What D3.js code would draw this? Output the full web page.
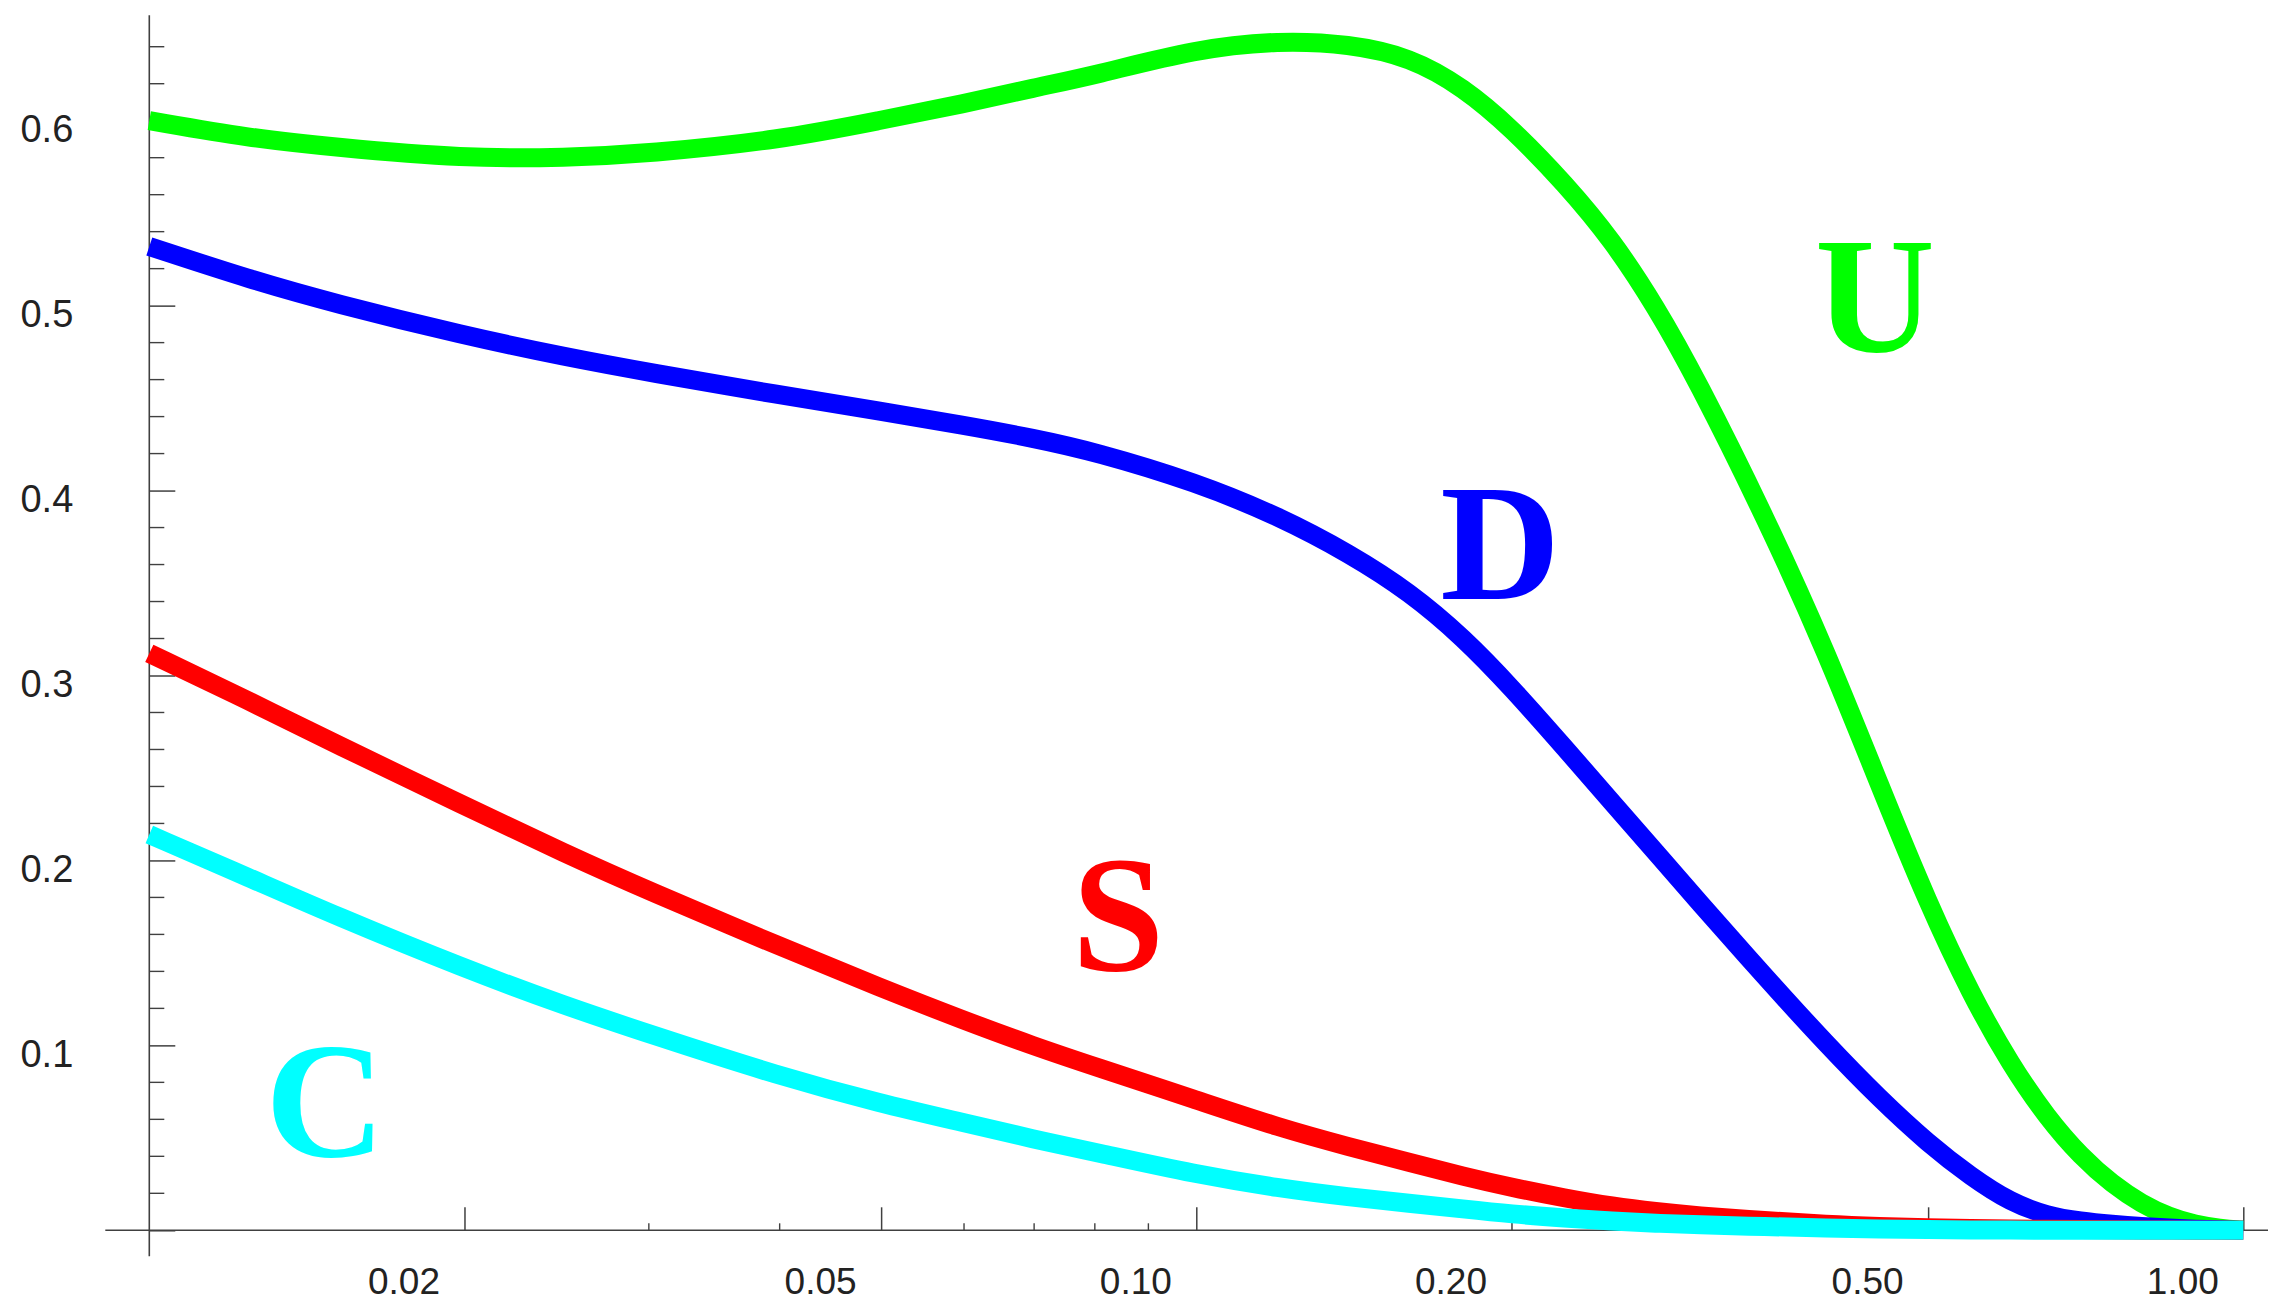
<!DOCTYPE html>
<html>
<head>
<meta charset="utf-8">
<script src="https://cdn.jsdelivr.net/npm/d3@7"></script>
<style>
  html, body { margin: 0; padding: 0; background: #ffffff; }
  svg { display: block; }
</style>
</head>
<body>
<svg id="chart" width="2271" height="1302"></svg>
<script>
// Sample points along the horizontal (log) axis
const xs = [0.01, 0.0125, 0.015, 0.02, 0.025, 0.03, 0.04, 0.05, 0.06, 0.07, 0.08, 0.1,
            0.12, 0.14, 0.16, 0.18, 0.2, 0.225, 0.25, 0.275, 0.3, 0.35, 0.4, 0.45, 0.5,
            0.55, 0.6, 0.65, 0.7, 0.75, 0.8, 0.85, 0.9, 0.95, 1.0];

// Curve values at each sample point
const uValues = [0.600, 0.5905, 0.5857, 0.5795, 0.5800, 0.5823, 0.5895, 0.6003, 0.6091, 0.6178, 0.6246, 0.6388,
                 0.6434, 0.6415, 0.6345, 0.6180, 0.596, 0.566, 0.535, 0.499, 0.461, 0.385, 0.3125, 0.2398, 0.1766,
                 0.127, 0.0892, 0.0607, 0.0398, 0.0248, 0.0142, 0.0072, 0.003, 0.001, 0.0];
const dValues = [0.532, 0.514, 0.5013, 0.4838, 0.4722, 0.4639, 0.4517, 0.4428, 0.4353, 0.4283, 0.421, 0.4045,
                 0.386, 0.366, 0.345, 0.3204, 0.2935, 0.2607, 0.2309, 0.204, 0.1794, 0.1365, 0.1005, 0.0708, 0.047,
                 0.0288, 0.015, 0.0078, 0.0048, 0.0032, 0.002, 0.0012, 0.0006, 0.0002, 0.0];
const sValues = [0.312, 0.2858, 0.2635, 0.2295, 0.2035, 0.1835, 0.1535, 0.131, 0.1135, 0.0995, 0.0885, 0.0705,
                 0.0555, 0.0451, 0.0366, 0.0291, 0.0232, 0.0174, 0.0129, 0.0100, 0.0079, 0.0052, 0.0031, 0.002, 0.0014,
                 0.001, 0.0007, 0.0005, 0.0004, 0.0003, 0.0002, 0.0001, 0.0001, 0.0, 0.0];
const cValues = [0.214, 0.1903, 0.1705, 0.1415, 0.1212, 0.1062, 0.0833, 0.0685, 0.0582, 0.0492, 0.0423, 0.0302,
                 0.0228, 0.0180, 0.0146, 0.0115, 0.0088, 0.0066, 0.0049, 0.0038, 0.003, 0.002, 0.0012, 0.0007, 0.0004,
                 0.0002, 0.0001, 0.0, 0.0, 0.0, 0.0, 0.0, 0.0, 0.0, 0.0];

const seriesNames = ["U", "D", "S", "C"];
const seriesColors = ["#00ff00", "#0000ff", "#ff0000", "#00ffff"];

// Tick values and labels
const xMajorTicks = [0.02, 0.05, 0.1, 0.2, 0.5, 1.0];
const xTickLabels = ["0.02", "0.05", "0.10", "0.20", "0.50", "1.00"];
const xMinorTicks = [0.03, 0.04, 0.06, 0.07, 0.08, 0.09, 0.3, 0.4, 0.6, 0.7, 0.8, 0.9];
const yMajorTicks = [0, 0.1, 0.2, 0.3, 0.4, 0.5, 0.6];
const yTickLabels = ["", "0.1", "0.2", "0.3", "0.4", "0.5", "0.6"];
const yMinorTicks = [0.02, 0.04, 0.06, 0.08, 0.12, 0.14, 0.16, 0.18, 0.22, 0.24, 0.26, 0.28,
                     0.32, 0.34, 0.36, 0.38, 0.42, 0.44, 0.46, 0.48, 0.52, 0.54, 0.56, 0.58, 0.62, 0.64];

// Anchor points (data coordinates) for the curve names
const labelX = [0.4449, 0.1951, 0.0842, 0.01472];
const labelY = [0.4755, 0.3414, 0.1408, 0.0402];

const svg = d3.select("#chart");

const x = d3.scaleLog().domain([0.01, 1]).range([149.3, 2243.3]);
const y = d3.scaleLinear().domain([0, 0.6]).range([1230.3, 120.7]);

const axisColor = "#404040";
const tickFont = "'Liberation Sans', Arial, Helvetica, sans-serif";

// Axis lines
svg.append("line")
  .attr("x1", x(0.01) - 44).attr("x2", 2268)
  .attr("y1", y(0)).attr("y2", y(0))
  .attr("stroke", axisColor).attr("stroke-width", 1.6);
svg.append("line")
  .attr("x1", x(0.01)).attr("x2", x(0.01))
  .attr("y1", y(0.657)).attr("y2", y(0) + 26)
  .attr("stroke", axisColor).attr("stroke-width", 1.6);

// Horizontal axis: major ticks point up into the plot, labels sit below
const xAxis = d3.axisBottom(x)
  .tickValues(xMajorTicks)
  .tickSizeInner(-23)
  .tickSizeOuter(0)
  .tickFormat((d, i) => xTickLabels[i]);
const gx = svg.append("g")
  .attr("transform", `translate(0,${y(0)})`)
  .call(xAxis);
gx.select(".domain").remove();
gx.selectAll(".tick line").attr("stroke", axisColor).attr("stroke-width", 1.5);
gx.selectAll(".tick text")
  .attr("x", -61)
  .attr("y", 64)
  .attr("dy", null)
  .attr("fill", "#222")
  .style("font-family", tickFont)
  .style("font-size", "37px");

svg.append("g").selectAll("line")
  .data(xMinorTicks)
  .join("line")
  .attr("x1", d => x(d)).attr("x2", d => x(d))
  .attr("y1", y(0)).attr("y2", y(0) - 7)
  .attr("stroke", axisColor).attr("stroke-width", 1.4);

// Vertical axis: ticks point right into the plot, labels on the left
const yAxis = d3.axisLeft(y)
  .tickValues(yMajorTicks)
  .tickSizeInner(-26)
  .tickSizeOuter(0)
  .tickFormat((d, i) => yTickLabels[i]);
const gy = svg.append("g")
  .attr("transform", `translate(${x(0.01)},0)`)
  .call(yAxis);
gy.select(".domain").remove();
gy.selectAll(".tick line").attr("stroke", axisColor).attr("stroke-width", 1.5);
gy.selectAll(".tick text")
  .attr("x", -76)
  .attr("dy", "0.55em")
  .attr("text-anchor", "end")
  .attr("fill", "#222")
  .style("font-family", tickFont)
  .style("font-size", "38px");

svg.append("g").selectAll("line")
  .data(yMinorTicks)
  .join("line")
  .attr("x1", x(0.01)).attr("x2", x(0.01) + 15)
  .attr("y1", d => y(d)).attr("y2", d => y(d))
  .attr("stroke", axisColor).attr("stroke-width", 1.4);

// Curves, cyan drawn last so it sits on top where they converge
const allValues = [uValues, dValues, sValues, cValues];
const line = d3.line()
  .x(d => x(d[0]))
  .y(d => y(d[1]))
  .curve(d3.curveBasis);

const curves = svg.append("g");
allValues.forEach((vals, i) => {
  curves.append("path")
    .datum(xs.map((xv, j) => [xv, vals[j]]))
    .attr("d", line)
    .attr("fill", "none")
    .attr("stroke", seriesColors[i])
    .attr("stroke-width", 19)
    .attr("stroke-linecap", "butt")
    .attr("stroke-linejoin", "round");
});

// Curve names
svg.append("g").selectAll("text")
  .data(seriesNames)
  .join("text")
  .attr("x", (d, i) => x(labelX[i]))
  .attr("y", (d, i) => y(labelY[i]))
  .attr("text-anchor", "middle")
  .attr("fill", (d, i) => seriesColors[i])
  .style("font-family", "'Liberation Serif', 'Times New Roman', Times, serif")
  .style("font-weight", "bold")
  .style("font-size", "166px")
  .text(d => d);
</script>
</body>
</html>
